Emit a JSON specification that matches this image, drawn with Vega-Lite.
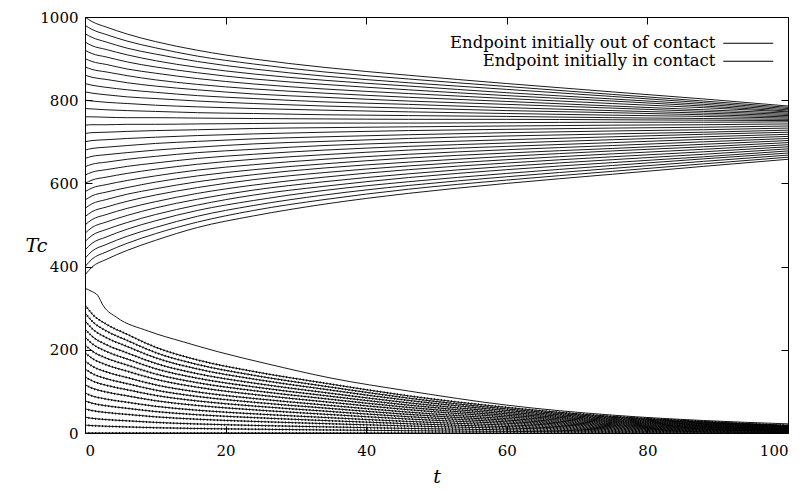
{
"$schema":"https://vega.github.io/schema/vega-lite/v6.json",
"width":703,"height":416,
"autosize":"none",
"padding":{"left":85,"top":17,"right":16,"bottom":60},
"background":"white",
"config":{"view":{"stroke":"black","strokeWidth":1},"font":"DejaVu Serif",
"axis":{"grid":false,"domain":false,"tickColor":"black","tickWidth":1,"labelFont":"DejaVu Serif","labelFontSize":15,"labelColor":"black","titleFont":"DejaVu Serif","titleFontStyle":"italic","titleFontWeight":"normal","titleFontSize":19,"titleColor":"black"}},
"datasets":{"d":[
{"i":1,"k":"in","t":0,"v":1000},{"i":1,"k":"in","t":1,"v":989},{"i":1,"k":"in","t":3,"v":976},{"i":1,"k":"in","t":6,"v":959},{"i":1,"k":"in","t":10,"v":941},{"i":1,"k":"in","t":16,"v":920},{"i":1,"k":"in","t":24,"v":899},{"i":1,"k":"in","t":34,"v":879},{"i":1,"k":"in","t":46,"v":860},{"i":1,"k":"in","t":60,"v":840},{"i":1,"k":"in","t":75,"v":820},{"i":1,"k":"in","t":88,"v":803},{"i":1,"k":"in","t":100,"v":786},
{"i":2,"k":"in","t":0,"v":980},{"i":2,"k":"in","t":1,"v":970},{"i":2,"k":"in","t":3,"v":958},{"i":2,"k":"in","t":6,"v":942},{"i":2,"k":"in","t":10,"v":926},{"i":2,"k":"in","t":16,"v":906},{"i":2,"k":"in","t":24,"v":887},{"i":2,"k":"in","t":34,"v":868},{"i":2,"k":"in","t":46,"v":851},{"i":2,"k":"in","t":60,"v":833},{"i":2,"k":"in","t":75,"v":814},{"i":2,"k":"in","t":88,"v":798},{"i":2,"k":"in","t":100,"v":783},
{"i":3,"k":"in","t":0,"v":960},{"i":3,"k":"in","t":1,"v":951},{"i":3,"k":"in","t":3,"v":940},{"i":3,"k":"in","t":6,"v":925},{"i":3,"k":"in","t":10,"v":911},{"i":3,"k":"in","t":16,"v":893},{"i":3,"k":"in","t":24,"v":875},{"i":3,"k":"in","t":34,"v":858},{"i":3,"k":"in","t":46,"v":842},{"i":3,"k":"in","t":60,"v":826},{"i":3,"k":"in","t":75,"v":809},{"i":3,"k":"in","t":88,"v":794},{"i":3,"k":"in","t":100,"v":780},
{"i":4,"k":"in","t":0,"v":940},{"i":4,"k":"in","t":1,"v":931},{"i":4,"k":"in","t":3,"v":922},{"i":4,"k":"in","t":6,"v":909},{"i":4,"k":"in","t":10,"v":895},{"i":4,"k":"in","t":16,"v":879},{"i":4,"k":"in","t":24,"v":863},{"i":4,"k":"in","t":34,"v":848},{"i":4,"k":"in","t":46,"v":834},{"i":4,"k":"in","t":60,"v":818},{"i":4,"k":"in","t":75,"v":803},{"i":4,"k":"in","t":88,"v":790},{"i":4,"k":"in","t":100,"v":777},
{"i":5,"k":"in","t":0,"v":920},{"i":5,"k":"in","t":1,"v":912},{"i":5,"k":"in","t":3,"v":904},{"i":5,"k":"in","t":6,"v":892},{"i":5,"k":"in","t":10,"v":880},{"i":5,"k":"in","t":16,"v":866},{"i":5,"k":"in","t":24,"v":851},{"i":5,"k":"in","t":34,"v":838},{"i":5,"k":"in","t":46,"v":825},{"i":5,"k":"in","t":60,"v":811},{"i":5,"k":"in","t":75,"v":798},{"i":5,"k":"in","t":88,"v":786},{"i":5,"k":"in","t":100,"v":774},
{"i":6,"k":"in","t":0,"v":900},{"i":6,"k":"in","t":1,"v":893},{"i":6,"k":"in","t":3,"v":886},{"i":6,"k":"in","t":6,"v":875},{"i":6,"k":"in","t":10,"v":865},{"i":6,"k":"in","t":16,"v":852},{"i":6,"k":"in","t":24,"v":839},{"i":6,"k":"in","t":34,"v":827},{"i":6,"k":"in","t":46,"v":816},{"i":6,"k":"in","t":60,"v":804},{"i":6,"k":"in","t":75,"v":792},{"i":6,"k":"in","t":88,"v":782},{"i":6,"k":"in","t":100,"v":772},
{"i":7,"k":"in","t":0,"v":880},{"i":7,"k":"in","t":1,"v":874},{"i":7,"k":"in","t":3,"v":868},{"i":7,"k":"in","t":6,"v":859},{"i":7,"k":"in","t":10,"v":849},{"i":7,"k":"in","t":16,"v":838},{"i":7,"k":"in","t":24,"v":827},{"i":7,"k":"in","t":34,"v":817},{"i":7,"k":"in","t":46,"v":807},{"i":7,"k":"in","t":60,"v":797},{"i":7,"k":"in","t":75,"v":786},{"i":7,"k":"in","t":88,"v":777},{"i":7,"k":"in","t":100,"v":769},
{"i":8,"k":"in","t":0,"v":860},{"i":8,"k":"in","t":1,"v":855},{"i":8,"k":"in","t":3,"v":850},{"i":8,"k":"in","t":6,"v":842},{"i":8,"k":"in","t":10,"v":834},{"i":8,"k":"in","t":16,"v":825},{"i":8,"k":"in","t":24,"v":815},{"i":8,"k":"in","t":34,"v":807},{"i":8,"k":"in","t":46,"v":798},{"i":8,"k":"in","t":60,"v":790},{"i":8,"k":"in","t":75,"v":781},{"i":8,"k":"in","t":88,"v":773},{"i":8,"k":"in","t":100,"v":766},
{"i":9,"k":"in","t":0,"v":840},{"i":9,"k":"in","t":1,"v":836},{"i":9,"k":"in","t":3,"v":831},{"i":9,"k":"in","t":6,"v":825},{"i":9,"k":"in","t":10,"v":819},{"i":9,"k":"in","t":16,"v":811},{"i":9,"k":"in","t":24,"v":804},{"i":9,"k":"in","t":34,"v":796},{"i":9,"k":"in","t":46,"v":790},{"i":9,"k":"in","t":60,"v":782},{"i":9,"k":"in","t":75,"v":775},{"i":9,"k":"in","t":88,"v":769},{"i":9,"k":"in","t":100,"v":763},
{"i":10,"k":"in","t":0,"v":820},{"i":10,"k":"in","t":1,"v":817},{"i":10,"k":"in","t":3,"v":813},{"i":10,"k":"in","t":6,"v":808},{"i":10,"k":"in","t":10,"v":804},{"i":10,"k":"in","t":16,"v":798},{"i":10,"k":"in","t":24,"v":792},{"i":10,"k":"in","t":34,"v":786},{"i":10,"k":"in","t":46,"v":781},{"i":10,"k":"in","t":60,"v":775},{"i":10,"k":"in","t":75,"v":770},{"i":10,"k":"in","t":88,"v":765},{"i":10,"k":"in","t":100,"v":760},
{"i":11,"k":"in","t":0,"v":800},{"i":11,"k":"in","t":1,"v":798},{"i":11,"k":"in","t":3,"v":795},{"i":11,"k":"in","t":6,"v":792},{"i":11,"k":"in","t":10,"v":788},{"i":11,"k":"in","t":16,"v":784},{"i":11,"k":"in","t":24,"v":780},{"i":11,"k":"in","t":34,"v":776},{"i":11,"k":"in","t":46,"v":772},{"i":11,"k":"in","t":60,"v":768},{"i":11,"k":"in","t":75,"v":764},{"i":11,"k":"in","t":88,"v":761},{"i":11,"k":"in","t":100,"v":757},
{"i":12,"k":"in","t":0,"v":780},{"i":12,"k":"in","t":1,"v":779},{"i":12,"k":"in","t":3,"v":777},{"i":12,"k":"in","t":6,"v":775},{"i":12,"k":"in","t":10,"v":773},{"i":12,"k":"in","t":16,"v":770},{"i":12,"k":"in","t":24,"v":768},{"i":12,"k":"in","t":34,"v":765},{"i":12,"k":"in","t":46,"v":763},{"i":12,"k":"in","t":60,"v":761},{"i":12,"k":"in","t":75,"v":758},{"i":12,"k":"in","t":88,"v":756},{"i":12,"k":"in","t":100,"v":754},
{"i":13,"k":"in","t":0,"v":760},{"i":13,"k":"in","t":1,"v":760},{"i":13,"k":"in","t":3,"v":759},{"i":13,"k":"in","t":6,"v":758},{"i":13,"k":"in","t":10,"v":758},{"i":13,"k":"in","t":16,"v":757},{"i":13,"k":"in","t":24,"v":756},{"i":13,"k":"in","t":34,"v":755},{"i":13,"k":"in","t":46,"v":754},{"i":13,"k":"in","t":60,"v":754},{"i":13,"k":"in","t":75,"v":753},{"i":13,"k":"in","t":88,"v":752},{"i":13,"k":"in","t":100,"v":751},
{"i":14,"k":"in","t":0,"v":740},{"i":14,"k":"in","t":1,"v":741},{"i":14,"k":"in","t":3,"v":741},{"i":14,"k":"in","t":6,"v":742},{"i":14,"k":"in","t":10,"v":742},{"i":14,"k":"in","t":16,"v":743},{"i":14,"k":"in","t":24,"v":744},{"i":14,"k":"in","t":34,"v":745},{"i":14,"k":"in","t":46,"v":745},{"i":14,"k":"in","t":60,"v":746},{"i":14,"k":"in","t":75,"v":747},{"i":14,"k":"in","t":88,"v":747},{"i":14,"k":"in","t":100,"v":748},
{"i":15,"k":"in","t":0,"v":720},{"i":15,"k":"in","t":1,"v":722},{"i":15,"k":"in","t":3,"v":723},{"i":15,"k":"in","t":6,"v":725},{"i":15,"k":"in","t":10,"v":727},{"i":15,"k":"in","t":16,"v":729},{"i":15,"k":"in","t":24,"v":732},{"i":15,"k":"in","t":34,"v":734},{"i":15,"k":"in","t":46,"v":736},{"i":15,"k":"in","t":60,"v":738},{"i":15,"k":"in","t":75,"v":740},{"i":15,"k":"in","t":88,"v":741},{"i":15,"k":"in","t":100,"v":743},
{"i":16,"k":"in","t":0,"v":700},{"i":16,"k":"in","t":1,"v":703},{"i":16,"k":"in","t":3,"v":705},{"i":16,"k":"in","t":6,"v":708},{"i":16,"k":"in","t":10,"v":711},{"i":16,"k":"in","t":16,"v":715},{"i":16,"k":"in","t":24,"v":719},{"i":16,"k":"in","t":34,"v":723},{"i":16,"k":"in","t":46,"v":727},{"i":16,"k":"in","t":60,"v":730},{"i":16,"k":"in","t":75,"v":733},{"i":16,"k":"in","t":88,"v":735},{"i":16,"k":"in","t":100,"v":738},
{"i":17,"k":"in","t":0,"v":680},{"i":17,"k":"in","t":1,"v":684},{"i":17,"k":"in","t":3,"v":687},{"i":17,"k":"in","t":6,"v":691},{"i":17,"k":"in","t":10,"v":696},{"i":17,"k":"in","t":16,"v":701},{"i":17,"k":"in","t":24,"v":707},{"i":17,"k":"in","t":34,"v":712},{"i":17,"k":"in","t":46,"v":717},{"i":17,"k":"in","t":60,"v":722},{"i":17,"k":"in","t":75,"v":726},{"i":17,"k":"in","t":88,"v":729},{"i":17,"k":"in","t":100,"v":733},
{"i":18,"k":"in","t":0,"v":660},{"i":18,"k":"in","t":1,"v":665},{"i":18,"k":"in","t":3,"v":669},{"i":18,"k":"in","t":6,"v":674},{"i":18,"k":"in","t":10,"v":680},{"i":18,"k":"in","t":16,"v":687},{"i":18,"k":"in","t":24,"v":695},{"i":18,"k":"in","t":34,"v":701},{"i":18,"k":"in","t":46,"v":708},{"i":18,"k":"in","t":60,"v":714},{"i":18,"k":"in","t":75,"v":719},{"i":18,"k":"in","t":88,"v":723},{"i":18,"k":"in","t":100,"v":728},
{"i":19,"k":"in","t":0,"v":640},{"i":19,"k":"in","t":1,"v":646},{"i":19,"k":"in","t":3,"v":651},{"i":19,"k":"in","t":6,"v":658},{"i":19,"k":"in","t":10,"v":665},{"i":19,"k":"in","t":16,"v":674},{"i":19,"k":"in","t":24,"v":682},{"i":19,"k":"in","t":34,"v":691},{"i":19,"k":"in","t":46,"v":698},{"i":19,"k":"in","t":60,"v":705},{"i":19,"k":"in","t":75,"v":712},{"i":19,"k":"in","t":88,"v":718},{"i":19,"k":"in","t":100,"v":723},
{"i":20,"k":"in","t":0,"v":620},{"i":20,"k":"in","t":1,"v":627},{"i":20,"k":"in","t":3,"v":633},{"i":20,"k":"in","t":6,"v":641},{"i":20,"k":"in","t":10,"v":649},{"i":20,"k":"in","t":16,"v":660},{"i":20,"k":"in","t":24,"v":670},{"i":20,"k":"in","t":34,"v":680},{"i":20,"k":"in","t":46,"v":689},{"i":20,"k":"in","t":60,"v":697},{"i":20,"k":"in","t":75,"v":705},{"i":20,"k":"in","t":88,"v":712},{"i":20,"k":"in","t":100,"v":718},
{"i":21,"k":"in","t":0,"v":600},{"i":21,"k":"in","t":1,"v":608},{"i":21,"k":"in","t":3,"v":615},{"i":21,"k":"in","t":6,"v":624},{"i":21,"k":"in","t":10,"v":634},{"i":21,"k":"in","t":16,"v":646},{"i":21,"k":"in","t":24,"v":658},{"i":21,"k":"in","t":34,"v":669},{"i":21,"k":"in","t":46,"v":680},{"i":21,"k":"in","t":60,"v":689},{"i":21,"k":"in","t":75,"v":698},{"i":21,"k":"in","t":88,"v":706},{"i":21,"k":"in","t":100,"v":713},
{"i":22,"k":"in","t":0,"v":580},{"i":22,"k":"in","t":1,"v":589},{"i":22,"k":"in","t":3,"v":597},{"i":22,"k":"in","t":6,"v":607},{"i":22,"k":"in","t":10,"v":618},{"i":22,"k":"in","t":16,"v":632},{"i":22,"k":"in","t":24,"v":645},{"i":22,"k":"in","t":34,"v":658},{"i":22,"k":"in","t":46,"v":670},{"i":22,"k":"in","t":60,"v":681},{"i":22,"k":"in","t":75,"v":691},{"i":22,"k":"in","t":88,"v":700},{"i":22,"k":"in","t":100,"v":708},
{"i":23,"k":"in","t":0,"v":560},{"i":23,"k":"in","t":1,"v":570},{"i":23,"k":"in","t":3,"v":579},{"i":23,"k":"in","t":6,"v":590},{"i":23,"k":"in","t":10,"v":603},{"i":23,"k":"in","t":16,"v":618},{"i":23,"k":"in","t":24,"v":633},{"i":23,"k":"in","t":34,"v":647},{"i":23,"k":"in","t":46,"v":661},{"i":23,"k":"in","t":60,"v":673},{"i":23,"k":"in","t":75,"v":684},{"i":23,"k":"in","t":88,"v":694},{"i":23,"k":"in","t":100,"v":703},
{"i":24,"k":"in","t":0,"v":540},{"i":24,"k":"in","t":1,"v":551},{"i":24,"k":"in","t":3,"v":561},{"i":24,"k":"in","t":6,"v":574},{"i":24,"k":"in","t":10,"v":587},{"i":24,"k":"in","t":16,"v":604},{"i":24,"k":"in","t":24,"v":621},{"i":24,"k":"in","t":34,"v":637},{"i":24,"k":"in","t":46,"v":651},{"i":24,"k":"in","t":60,"v":665},{"i":24,"k":"in","t":75,"v":678},{"i":24,"k":"in","t":88,"v":688},{"i":24,"k":"in","t":100,"v":698},
{"i":25,"k":"in","t":0,"v":520},{"i":25,"k":"in","t":1,"v":532},{"i":25,"k":"in","t":3,"v":543},{"i":25,"k":"in","t":6,"v":557},{"i":25,"k":"in","t":10,"v":572},{"i":25,"k":"in","t":16,"v":590},{"i":25,"k":"in","t":24,"v":609},{"i":25,"k":"in","t":34,"v":626},{"i":25,"k":"in","t":46,"v":642},{"i":25,"k":"in","t":60,"v":657},{"i":25,"k":"in","t":75,"v":671},{"i":25,"k":"in","t":88,"v":682},{"i":25,"k":"in","t":100,"v":693},
{"i":26,"k":"in","t":0,"v":500},{"i":26,"k":"in","t":1,"v":513},{"i":26,"k":"in","t":3,"v":525},{"i":26,"k":"in","t":6,"v":540},{"i":26,"k":"in","t":10,"v":556},{"i":26,"k":"in","t":16,"v":576},{"i":26,"k":"in","t":24,"v":596},{"i":26,"k":"in","t":34,"v":615},{"i":26,"k":"in","t":46,"v":633},{"i":26,"k":"in","t":60,"v":649},{"i":26,"k":"in","t":75,"v":664},{"i":26,"k":"in","t":88,"v":676},{"i":26,"k":"in","t":100,"v":688},
{"i":27,"k":"in","t":0,"v":480},{"i":27,"k":"in","t":1,"v":494},{"i":27,"k":"in","t":3,"v":507},{"i":27,"k":"in","t":6,"v":523},{"i":27,"k":"in","t":10,"v":541},{"i":27,"k":"in","t":16,"v":562},{"i":27,"k":"in","t":24,"v":584},{"i":27,"k":"in","t":34,"v":604},{"i":27,"k":"in","t":46,"v":623},{"i":27,"k":"in","t":60,"v":641},{"i":27,"k":"in","t":75,"v":657},{"i":27,"k":"in","t":88,"v":670},{"i":27,"k":"in","t":100,"v":683},
{"i":28,"k":"in","t":0,"v":460},{"i":28,"k":"in","t":1,"v":475},{"i":28,"k":"in","t":3,"v":489},{"i":28,"k":"in","t":6,"v":506},{"i":28,"k":"in","t":10,"v":525},{"i":28,"k":"in","t":16,"v":548},{"i":28,"k":"in","t":24,"v":572},{"i":28,"k":"in","t":34,"v":593},{"i":28,"k":"in","t":46,"v":614},{"i":28,"k":"in","t":60,"v":633},{"i":28,"k":"in","t":75,"v":650},{"i":28,"k":"in","t":88,"v":664},{"i":28,"k":"in","t":100,"v":678},
{"i":29,"k":"in","t":0,"v":440},{"i":29,"k":"in","t":1,"v":456},{"i":29,"k":"in","t":3,"v":471},{"i":29,"k":"in","t":6,"v":490},{"i":29,"k":"in","t":10,"v":510},{"i":29,"k":"in","t":16,"v":535},{"i":29,"k":"in","t":24,"v":559},{"i":29,"k":"in","t":34,"v":583},{"i":29,"k":"in","t":46,"v":604},{"i":29,"k":"in","t":60,"v":624},{"i":29,"k":"in","t":75,"v":643},{"i":29,"k":"in","t":88,"v":659},{"i":29,"k":"in","t":100,"v":673},
{"i":30,"k":"in","t":0,"v":420},{"i":30,"k":"in","t":1,"v":437},{"i":30,"k":"in","t":3,"v":453},{"i":30,"k":"in","t":6,"v":473},{"i":30,"k":"in","t":10,"v":494},{"i":30,"k":"in","t":16,"v":521},{"i":30,"k":"in","t":24,"v":547},{"i":30,"k":"in","t":34,"v":572},{"i":30,"k":"in","t":46,"v":595},{"i":30,"k":"in","t":60,"v":616},{"i":30,"k":"in","t":75,"v":636},{"i":30,"k":"in","t":88,"v":653},{"i":30,"k":"in","t":100,"v":668},
{"i":31,"k":"in","t":0,"v":400},{"i":31,"k":"in","t":1,"v":418},{"i":31,"k":"in","t":3,"v":435},{"i":31,"k":"in","t":6,"v":456},{"i":31,"k":"in","t":10,"v":479},{"i":31,"k":"in","t":16,"v":507},{"i":31,"k":"in","t":24,"v":535},{"i":31,"k":"in","t":34,"v":561},{"i":31,"k":"in","t":46,"v":586},{"i":31,"k":"in","t":60,"v":608},{"i":31,"k":"in","t":75,"v":629},{"i":31,"k":"in","t":88,"v":647},{"i":31,"k":"in","t":100,"v":663},
{"i":32,"k":"in","t":0,"v":380},{"i":32,"k":"in","t":1,"v":399},{"i":32,"k":"in","t":3,"v":417},{"i":32,"k":"in","t":6,"v":439},{"i":32,"k":"in","t":10,"v":463},{"i":32,"k":"in","t":16,"v":494},{"i":32,"k":"in","t":24,"v":522},{"i":32,"k":"in","t":34,"v":550},{"i":32,"k":"in","t":46,"v":576},{"i":32,"k":"in","t":60,"v":600},{"i":32,"k":"in","t":75,"v":622},{"i":32,"k":"in","t":88,"v":641},{"i":32,"k":"in","t":100,"v":658},
{"i":33,"k":"in","t":0,"v":348},{"i":33,"k":"in","t":1,"v":340},{"i":33,"k":"in","t":1.8,"v":331},{"i":33,"k":"in","t":2.6,"v":306},{"i":33,"k":"in","t":4.5,"v":278},{"i":33,"k":"in","t":9,"v":245},{"i":33,"k":"in","t":14,"v":219},{"i":33,"k":"in","t":19,"v":195},{"i":33,"k":"in","t":26,"v":166},{"i":33,"k":"in","t":35,"v":132},{"i":33,"k":"in","t":46,"v":101},{"i":33,"k":"in","t":60,"v":67},{"i":33,"k":"in","t":75,"v":43},{"i":33,"k":"in","t":88,"v":30},{"i":33,"k":"in","t":100,"v":22},
{"i":34,"k":"out","t":0,"v":0},{"i":34,"k":"out","t":10,"v":0},{"i":34,"k":"out","t":34,"v":0},{"i":34,"k":"out","t":60,"v":0},{"i":34,"k":"out","t":100,"v":0},
{"i":35,"k":"out","t":0,"v":19},{"i":35,"k":"out","t":1,"v":17.7},{"i":35,"k":"out","t":3,"v":16.2},{"i":35,"k":"out","t":6,"v":14.6},{"i":35,"k":"out","t":10,"v":12.7},{"i":35,"k":"out","t":16,"v":10.8},{"i":35,"k":"out","t":24,"v":9.1},{"i":35,"k":"out","t":34,"v":7.4},{"i":35,"k":"out","t":46,"v":5.5},{"i":35,"k":"out","t":60,"v":3.8},{"i":35,"k":"out","t":75,"v":2.5},{"i":35,"k":"out","t":88,"v":1.7},{"i":35,"k":"out","t":100,"v":1.1},
{"i":36,"k":"out","t":0,"v":38},{"i":36,"k":"out","t":1,"v":35.3},{"i":36,"k":"out","t":3,"v":32.3},{"i":36,"k":"out","t":6,"v":29.3},{"i":36,"k":"out","t":10,"v":25.5},{"i":36,"k":"out","t":16,"v":21.7},{"i":36,"k":"out","t":24,"v":18.2},{"i":36,"k":"out","t":34,"v":14.8},{"i":36,"k":"out","t":46,"v":11},{"i":36,"k":"out","t":60,"v":7.6},{"i":36,"k":"out","t":75,"v":4.9},{"i":36,"k":"out","t":88,"v":3.4},{"i":36,"k":"out","t":100,"v":2.3},
{"i":37,"k":"out","t":0,"v":58},{"i":37,"k":"out","t":1,"v":53.9},{"i":37,"k":"out","t":3,"v":49.3},{"i":37,"k":"out","t":6,"v":44.7},{"i":37,"k":"out","t":10,"v":38.9},{"i":37,"k":"out","t":16,"v":33.1},{"i":37,"k":"out","t":24,"v":27.8},{"i":37,"k":"out","t":34,"v":22.6},{"i":37,"k":"out","t":46,"v":16.8},{"i":37,"k":"out","t":60,"v":11.6},{"i":37,"k":"out","t":75,"v":7.5},{"i":37,"k":"out","t":88,"v":5.2},{"i":37,"k":"out","t":100,"v":3.5},
{"i":38,"k":"out","t":0,"v":77},{"i":38,"k":"out","t":1,"v":71.6},{"i":38,"k":"out","t":3,"v":65.5},{"i":38,"k":"out","t":6,"v":59.3},{"i":38,"k":"out","t":10,"v":51.6},{"i":38,"k":"out","t":16,"v":43.9},{"i":38,"k":"out","t":24,"v":37},{"i":38,"k":"out","t":34,"v":30},{"i":38,"k":"out","t":46,"v":22.3},{"i":38,"k":"out","t":60,"v":15.4},{"i":38,"k":"out","t":75,"v":10},{"i":38,"k":"out","t":88,"v":6.9},{"i":38,"k":"out","t":100,"v":4.6},
{"i":39,"k":"out","t":0,"v":96},{"i":39,"k":"out","t":1,"v":89.3},{"i":39,"k":"out","t":3,"v":81.6},{"i":39,"k":"out","t":6,"v":73.9},{"i":39,"k":"out","t":10,"v":64.3},{"i":39,"k":"out","t":16,"v":54.7},{"i":39,"k":"out","t":24,"v":46.1},{"i":39,"k":"out","t":34,"v":37.4},{"i":39,"k":"out","t":46,"v":27.8},{"i":39,"k":"out","t":60,"v":19.2},{"i":39,"k":"out","t":75,"v":12.5},{"i":39,"k":"out","t":88,"v":8.6},{"i":39,"k":"out","t":100,"v":5.8},
{"i":40,"k":"out","t":0,"v":116},{"i":40,"k":"out","t":1,"v":107.9},{"i":40,"k":"out","t":3,"v":98.6},{"i":40,"k":"out","t":6,"v":89.3},{"i":40,"k":"out","t":10,"v":77.7},{"i":40,"k":"out","t":16,"v":66.1},{"i":40,"k":"out","t":24,"v":55.7},{"i":40,"k":"out","t":34,"v":45.2},{"i":40,"k":"out","t":46,"v":33.6},{"i":40,"k":"out","t":60,"v":23.2},{"i":40,"k":"out","t":75,"v":15.1},{"i":40,"k":"out","t":88,"v":10.4},{"i":40,"k":"out","t":100,"v":7},
{"i":41,"k":"out","t":0,"v":135},{"i":41,"k":"out","t":1,"v":125.6},{"i":41,"k":"out","t":3,"v":114.8},{"i":41,"k":"out","t":6,"v":104},{"i":41,"k":"out","t":10,"v":90.5},{"i":41,"k":"out","t":16,"v":77},{"i":41,"k":"out","t":24,"v":64.8},{"i":41,"k":"out","t":34,"v":52.7},{"i":41,"k":"out","t":46,"v":39.2},{"i":41,"k":"out","t":60,"v":27},{"i":41,"k":"out","t":75,"v":17.6},{"i":41,"k":"out","t":88,"v":12.2},{"i":41,"k":"out","t":100,"v":8.1},
{"i":42,"k":"out","t":0,"v":154},{"i":42,"k":"out","t":1,"v":143.2},{"i":42,"k":"out","t":3,"v":130.9},{"i":42,"k":"out","t":6,"v":118.6},{"i":42,"k":"out","t":10,"v":103.2},{"i":42,"k":"out","t":16,"v":87.8},{"i":42,"k":"out","t":24,"v":73.9},{"i":42,"k":"out","t":34,"v":60.1},{"i":42,"k":"out","t":46,"v":44.7},{"i":42,"k":"out","t":60,"v":30.8},{"i":42,"k":"out","t":75,"v":20},{"i":42,"k":"out","t":88,"v":13.9},{"i":42,"k":"out","t":100,"v":9.2},
{"i":43,"k":"out","t":0,"v":173},{"i":43,"k":"out","t":1,"v":160.9},{"i":43,"k":"out","t":3,"v":147.1},{"i":43,"k":"out","t":6,"v":133.2},{"i":43,"k":"out","t":10,"v":115.9},{"i":43,"k":"out","t":16,"v":98.6},{"i":43,"k":"out","t":24,"v":83},{"i":43,"k":"out","t":34,"v":67.5},{"i":43,"k":"out","t":46,"v":50.2},{"i":43,"k":"out","t":60,"v":34.6},{"i":43,"k":"out","t":75,"v":22.5},{"i":43,"k":"out","t":88,"v":15.6},{"i":43,"k":"out","t":100,"v":10.4},
{"i":44,"k":"out","t":0,"v":193},{"i":44,"k":"out","t":1,"v":179.5},{"i":44,"k":"out","t":3,"v":164.1},{"i":44,"k":"out","t":6,"v":148.6},{"i":44,"k":"out","t":10,"v":129.3},{"i":44,"k":"out","t":16,"v":110},{"i":44,"k":"out","t":24,"v":92.6},{"i":44,"k":"out","t":34,"v":75.3},{"i":44,"k":"out","t":46,"v":56},{"i":44,"k":"out","t":60,"v":38.6},{"i":44,"k":"out","t":75,"v":25.1},{"i":44,"k":"out","t":88,"v":17.4},{"i":44,"k":"out","t":100,"v":11.6},
{"i":45,"k":"out","t":0,"v":212},{"i":45,"k":"out","t":1,"v":197.2},{"i":45,"k":"out","t":3,"v":180.2},{"i":45,"k":"out","t":6,"v":163.2},{"i":45,"k":"out","t":10,"v":142},{"i":45,"k":"out","t":16,"v":120.8},{"i":45,"k":"out","t":24,"v":101.8},{"i":45,"k":"out","t":34,"v":82.7},{"i":45,"k":"out","t":46,"v":61.5},{"i":45,"k":"out","t":60,"v":42.4},{"i":45,"k":"out","t":75,"v":27.6},{"i":45,"k":"out","t":88,"v":19.1},{"i":45,"k":"out","t":100,"v":12.7},
{"i":46,"k":"out","t":0,"v":231},{"i":46,"k":"out","t":1,"v":214.8},{"i":46,"k":"out","t":3,"v":196.4},{"i":46,"k":"out","t":6,"v":177.9},{"i":46,"k":"out","t":10,"v":154.8},{"i":46,"k":"out","t":16,"v":131.7},{"i":46,"k":"out","t":24,"v":110.9},{"i":46,"k":"out","t":34,"v":90.1},{"i":46,"k":"out","t":46,"v":67},{"i":46,"k":"out","t":60,"v":46.2},{"i":46,"k":"out","t":75,"v":30},{"i":46,"k":"out","t":88,"v":20.8},{"i":46,"k":"out","t":100,"v":13.9},
{"i":47,"k":"out","t":0,"v":250},{"i":47,"k":"out","t":1,"v":232.5},{"i":47,"k":"out","t":3,"v":212.5},{"i":47,"k":"out","t":6,"v":192.5},{"i":47,"k":"out","t":10,"v":167.5},{"i":47,"k":"out","t":16,"v":142.5},{"i":47,"k":"out","t":24,"v":120},{"i":47,"k":"out","t":34,"v":97.5},{"i":47,"k":"out","t":46,"v":72.5},{"i":47,"k":"out","t":60,"v":50},{"i":47,"k":"out","t":75,"v":32.5},{"i":47,"k":"out","t":88,"v":22.5},{"i":47,"k":"out","t":100,"v":15},
{"i":48,"k":"out","t":0,"v":270},{"i":48,"k":"out","t":1,"v":251.1},{"i":48,"k":"out","t":3,"v":229.5},{"i":48,"k":"out","t":6,"v":207.9},{"i":48,"k":"out","t":10,"v":180.9},{"i":48,"k":"out","t":16,"v":153.9},{"i":48,"k":"out","t":24,"v":129.6},{"i":48,"k":"out","t":34,"v":105.3},{"i":48,"k":"out","t":46,"v":78.3},{"i":48,"k":"out","t":60,"v":54},{"i":48,"k":"out","t":75,"v":35.1},{"i":48,"k":"out","t":88,"v":24.3},{"i":48,"k":"out","t":100,"v":16.2},
{"i":49,"k":"out","t":0,"v":289},{"i":49,"k":"out","t":1,"v":268.8},{"i":49,"k":"out","t":3,"v":245.7},{"i":49,"k":"out","t":6,"v":222.5},{"i":49,"k":"out","t":10,"v":193.6},{"i":49,"k":"out","t":16,"v":164.7},{"i":49,"k":"out","t":24,"v":138.7},{"i":49,"k":"out","t":34,"v":112.7},{"i":49,"k":"out","t":46,"v":83.8},{"i":49,"k":"out","t":60,"v":57.8},{"i":49,"k":"out","t":75,"v":37.6},{"i":49,"k":"out","t":88,"v":26},{"i":49,"k":"out","t":100,"v":17.3},
{"i":50,"k":"out","t":0,"v":308},{"i":50,"k":"out","t":1,"v":286.4},{"i":50,"k":"out","t":3,"v":261.8},{"i":50,"k":"out","t":6,"v":237.2},{"i":50,"k":"out","t":10,"v":206.4},{"i":50,"k":"out","t":16,"v":175.6},{"i":50,"k":"out","t":24,"v":147.8},{"i":50,"k":"out","t":34,"v":120.1},{"i":50,"k":"out","t":46,"v":89.3},{"i":50,"k":"out","t":60,"v":61.6},{"i":50,"k":"out","t":75,"v":40},{"i":50,"k":"out","t":88,"v":27.7},{"i":50,"k":"out","t":100,"v":18.5}
]},
"data":{"name":"d"},
"layer":[
{"mark":{"type":"line","interpolate":"monotone","strokeWidth":0.9,"clip":true},
"encoding":{
"x":{"field":"t","type":"quantitative","scale":{"domain":[0,100],"nice":false,"zero":false},"axis":{"values":[0,20,40,60,80,100],"title":"t","tickSize":-7,"labelPadding":17,"titleY":34,"titleBaseline":"top"}},
"y":{"field":"v","type":"quantitative","scale":{"domain":[0,1000],"nice":false},"axis":{"values":[0,200,400,600,800,1000],"format":"d","title":"Tc","titleAngle":0,"titleX":-60,"titleY":228,"titleAlign":"left","titleBaseline":"middle","tickSize":-7,"labelPadding":14}},
"detail":{"field":"i","type":"nominal"},
"stroke":{"field":"k","type":"nominal","scale":{"domain":["out","in"],"range":["#000000","#000000"]},
"legend":{"orient":"none","legendX":655,"legendY":18,"title":null,"padding":0,"rowPadding":1,"symbolType":"M-5,0H5","symbolSize":100,"symbolStrokeWidth":1,"symbolStrokeColor":"black","labelAlign":"right","labelOffset":-41,"labelFont":"DejaVu Serif","labelFontSize":16.5,"labelColor":"black","labelLimit":0,"labelExpr":"datum.label == 'out' ? 'Endpoint initially out of contact' : 'Endpoint initially in contact'"}}
}},
{"transform":[{"filter":"datum.k == 'out'"}],
"mark":{"type":"line","interpolate":"monotone","strokeWidth":2,"strokeDash":[1,2.4],"color":"black","clip":true},
"encoding":{
"x":{"field":"t","type":"quantitative","axis":{"orient":"top","values":[0,20,40,60,80,100],"labels":false,"title":null,"tickSize":-7}},
"y":{"field":"v","type":"quantitative","axis":{"orient":"right","values":[0,200,400,600,800,1000],"labels":false,"title":null,"tickSize":-7}},
"detail":{"field":"i","type":"nominal"}
}}
],
"resolve":{"axis":{"x":"independent","y":"independent"}}
}
